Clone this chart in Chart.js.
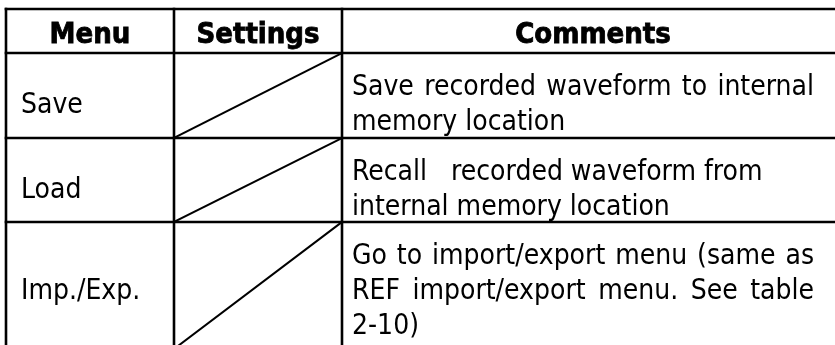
<!DOCTYPE html>
<html>
<head>
<meta charset="utf-8">
<script src="https://cdn.jsdelivr.net/npm/chart.js@4.4.1/dist/chart.umd.min.js"></script>
<style>
  html, body { margin: 0; padding: 0; background: #fff; }
  canvas { display: block; }
</style>
</head>
<body>
<canvas id="tableChart" width="835" height="345"></canvas>
<script>
// Table content
const headers = ['Menu', 'Settings', 'Comments'];
const menus = ['Save', 'Load', 'Imp./Exp.'];
const comments = [
    ['Save recorded waveform to internal', 'memory location'],
    ['Recall   recorded waveform from', 'internal memory location'],
    ['Go to import/export menu (same as', 'REF import/export menu. See table', '2-10)']
];
const justified = [true, false, true];

// Layout, in scale units (the scales map 1:1 onto the canvas)
const colEdges = [6, 174, 342, 844];
const tableTop = 9;
const headerH = 44;
const rowUnit = 42.3;     // row height per comment line
const textStep = 35;      // distance between text baselines
const padLeft = 15;
const textRight = 814;

const rowEdges = [tableTop, tableTop + headerH];
comments.forEach(lines => {
    rowEdges.push(rowEdges[rowEdges.length - 1] + lines.length * rowUnit);
});
for (let i = 0; i < rowEdges.length; i++) rowEdges[i] = Math.round(rowEdges[i]);
const tableBottom = rowEdges[rowEdges.length - 1];

// pick a font that is installed
function pickFont() {
    const c = document.createElement('canvas').getContext('2d');
    const s = 'internal memory location';
    c.font = '28px monospace';
    const mono = c.measureText(s).width;
    c.font = '28px "DejaVu Sans Condensed", monospace';
    const cond = c.measureText(s).width;
    if (Math.abs(cond - mono) > 0.5) return { family: '"DejaVu Sans Condensed"', size: 28 };
    return { family: '"DejaVu Sans"', size: 25 };
}
const font = pickFont();

// Grid segments as line datasets
function segment(x1, y1, x2, y2, width) {
    return {
        type: 'line',
        data: [{ x: x1, y: y1 }, { x: x2, y: y2 }],
        borderColor: '#000',
        borderWidth: width,
        borderCapStyle: 'square',
        pointRadius: 0,
        tension: 0,
        fill: false
    };
}

const datasets = [];
rowEdges.forEach(y => datasets.push(segment(colEdges[0], y, colEdges[3], y, 2.6)));
colEdges.forEach(x => datasets.push(segment(x, tableTop, x, tableBottom, 2.6)));
// struck-through settings cells
for (let r = 0; r < comments.length; r++) {
    datasets.push(segment(colEdges[1], rowEdges[r + 2], colEdges[2], rowEdges[r + 1], 2));
}

function drawJustified(ctx, text, x, right, y) {
    const words = text.split(' ');
    const wordsW = words.reduce((s, w) => s + ctx.measureText(w).width, 0);
    const gap = (right - x - wordsW) / (words.length - 1);
    if (words.length < 2 || gap < ctx.measureText(' ').width) {
        ctx.fillText(text, x, y);
        return;
    }
    let cx = x;
    words.forEach(w => {
        ctx.fillText(w, cx, y);
        cx += ctx.measureText(w).width + gap;
    });
}

const tableText = {
    id: 'tableText',
    afterDatasetsDraw(chart) {
        const ctx = chart.ctx;
        const sx = chart.scales.x, sy = chart.scales.y;
        ctx.save();
        ctx.fillStyle = '#000';
        ctx.strokeStyle = '#000';
        ctx.textBaseline = 'alphabetic';

        // header
        ctx.font = 'bold ' + (font.size + 1) + 'px ' + font.family;
        ctx.textAlign = 'center';
        ctx.lineWidth = 0.8;
        headers.forEach((h, i) => {
            const cx = (colEdges[i] + colEdges[i + 1]) / 2;
            const px = sx.getPixelForValue(cx), py = sy.getPixelForValue(tableTop + 34);
            ctx.fillText(h, px, py);
            ctx.strokeText(h, px, py);
        });

        // body
        ctx.font = font.size + 'px ' + font.family;
        ctx.textAlign = 'left';
        comments.forEach((lines, r) => {
            const top = rowEdges[r + 1];
            const base = lines.map((l, i) => top + 42 + i * textStep);
            const mid = (base[0] + base[base.length - 1]) / 2;
            ctx.fillText(menus[r], sx.getPixelForValue(colEdges[0] + padLeft), sy.getPixelForValue(mid));
            lines.forEach((line, i) => {
                const x = sx.getPixelForValue(colEdges[2] + 10);
                const y = sy.getPixelForValue(base[i]);
                if (justified[r] && i < lines.length - 1) {
                    drawJustified(ctx, line, x, sx.getPixelForValue(textRight), y);
                } else {
                    ctx.fillText(line, x, y);
                }
            });
        });
        ctx.restore();
    }
};

new Chart(document.getElementById('tableChart'), {
    type: 'scatter',
    data: { datasets: datasets },
    options: {
        responsive: false,
        animation: false,
        layout: { padding: 0 },
        plugins: { legend: { display: false }, tooltip: { enabled: false } },
        scales: {
            x: { type: 'linear', min: 0, max: 835, display: false },
            y: { type: 'linear', min: 0, max: 345, reverse: true, display: false }
        }
    },
    plugins: [tableText]
});
</script>
</body>
</html>
